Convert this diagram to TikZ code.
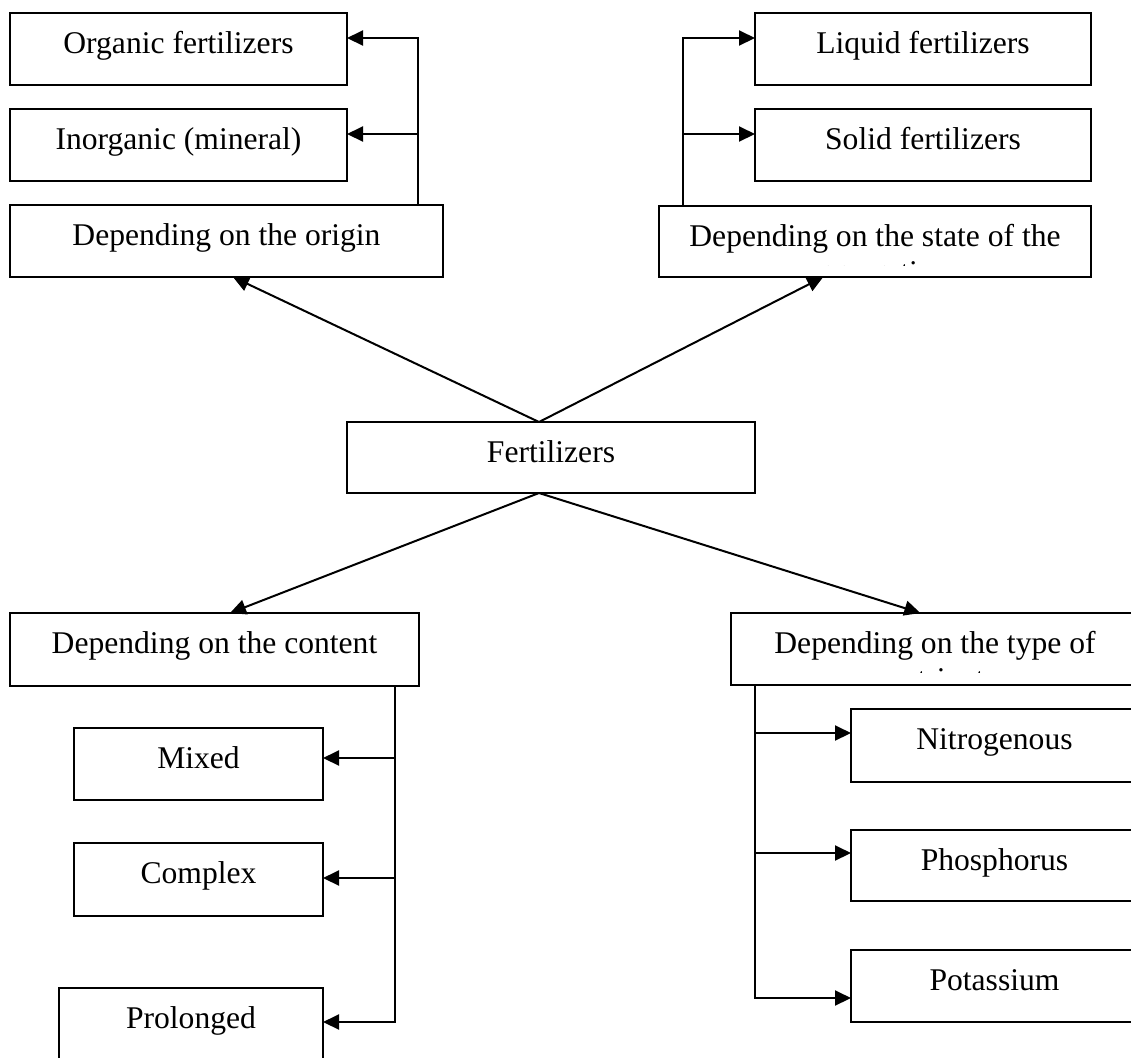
\documentclass[tikz,border=0pt]{standalone}
\usepackage{fontspec}
\setmainfont{Liberation Serif}
\usetikzlibrary{arrows.meta,calc}
\newcommand\mkbox[6]{%
  \node[boxst, minimum width={(#4-#2)*0.5pt}, minimum height={(#5-#3)*0.5pt}] (#1) at (#2,#3) {};
  \node[txt] (#1t) at ($(#1.north)+(0,40)$) {#6};%
}
\begin{document}
\begin{tikzpicture}[x=0.5pt,y=-0.5pt,
  boxst/.style={draw, line width=1pt, inner sep=0pt, outer sep=0pt, anchor=north west},
  txt/.style={anchor=base, inner sep=0pt, outer sep=0pt, font=\fontsize{15.8}{18.2}\selectfont},
  arr/.style={line width=1pt, -{Triangle[length=8pt,width=7.5pt]}}]
\useasboundingbox (0,0) rectangle (1131,1057);
\fill[white] (0,0) rectangle (1131,1057);
\clip (0,0) rectangle (1131,1057);

\mkbox{org}{10}{13}{347}{85}{Organic fertilizers}
\mkbox{inorg}{10}{109}{347}{181}{Inorganic (mineral)}
\mkbox{origin}{10}{205}{443}{277}{Depending on the origin}
\mkbox{liquid}{755}{13}{1091}{85}{Liquid fertilizers}
\mkbox{solid}{755}{109}{1091}{181}{Solid fertilizers}
\mkbox{state}{659}{206}{1091}{277}{Depending on the state of the}
\mkbox{fert}{347}{422}{755}{493}{Fertilizers}
\mkbox{content}{10}{613}{419}{686}{Depending on the content}
\mkbox{type}{731}{613}{1139}{685}{Depending on the type of}
\mkbox{mixed}{74}{728}{323}{800}{Mixed}
\mkbox{complex}{74}{843}{323}{916}{Complex}
\mkbox{prolonged}{59}{988}{323}{1060}{Prolonged}
\mkbox{nitro}{851}{709}{1138}{782}{Nitrogenous}
\mkbox{phos}{851}{830}{1138}{901}{Phosphorus}
\mkbox{pot}{851}{950}{1138}{1022}{Potassium}

% clipped second lines (only the tops of tall letters show)
\begin{scope}
  \clip (659,206) rectangle (1091,265.5);
  \node[txt] (state2) at ($(state.north)+(0,76.5)$) {aggregation};
\end{scope}
\begin{scope}
  \clip (731,613) rectangle (1131,672.5);
  \node[txt] (type2) at ($(type.north)+(0,76.5)$) {nutrient};
\end{scope}

% origin branch
\coordinate (jo) at ($(origin.north west)+(408,0)$);
\draw[arr] (jo) |- ([yshift=5.5pt]org.east);
\draw[arr] (jo) |- ([yshift=5.5pt]inorg.east);

% state branch
\coordinate (js) at ($(state.north west)+(24,0)$);
\draw[arr] (js) |- ([yshift=5.5pt]liquid.west);
\draw[arr] (js) |- ([yshift=5.5pt]solid.west);

% central
\coordinate (ft) at ($(fert.north west)!0.4706!(fert.north east)$);
\coordinate (fb) at ($(fert.south west)!0.4706!(fert.south east)$);
\draw[arr] (ft) -- ($(origin.south west)!0.515!(origin.south east)$);
\draw[arr] (ft) -- ($(state.south west)!0.38!(state.south east)$);
\draw[arr] (fb) -- ($(content.north west)!0.538!(content.north east)$);
\draw[arr] (fb) -- ($(type.north west)!0.464!(type.north east)$);

% content branch
\coordinate (jc) at ($(content.south east)+(-24,0)$);
\draw[arr] (jc) |- ([yshift=3pt]mixed.east);
\draw[arr] (jc) |- ([yshift=0.75pt]complex.east);
\draw[arr] (jc) |- ([yshift=1pt]prolonged.east);

% type branch
\coordinate (jt) at ($(type.south west)+(24,0)$);
\draw[arr] (jt) |- ([yshift=6.25pt]nitro.west);
\draw[arr] (jt) |- ([yshift=6.25pt]phos.west);
\draw[arr] (jt) |- ([yshift=-6pt]pot.west);
\end{tikzpicture}
\end{document}
